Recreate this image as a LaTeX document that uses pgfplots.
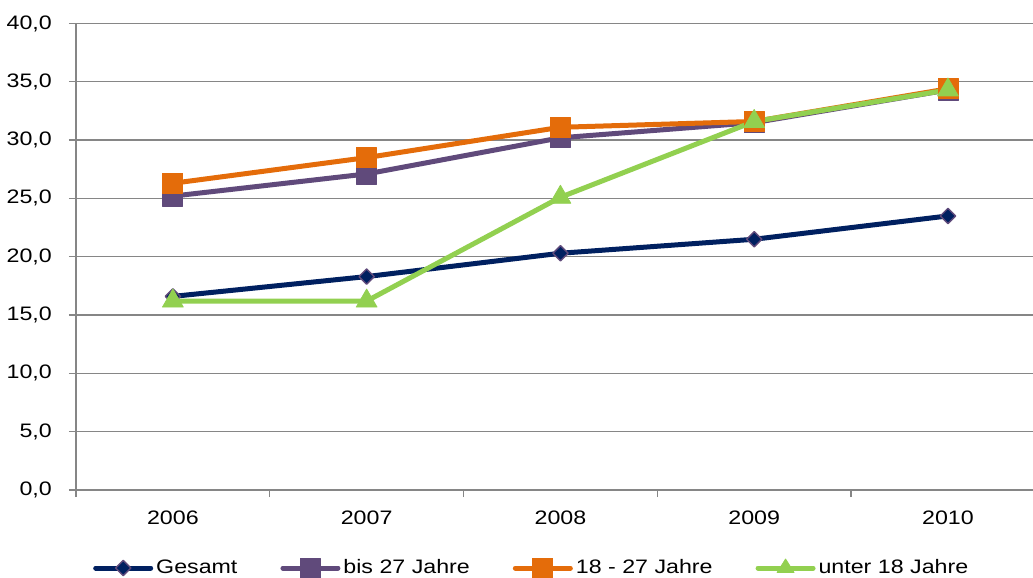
\documentclass[border=0pt]{standalone}
\usepackage{fontspec}
\setmainfont{Liberation Sans}[FakeStretch=1.19]
\usepackage{pgfplots}
\pgfplotsset{compat=1.18}

\definecolor{navyline}{HTML}{002060}
\definecolor{purpleline}{HTML}{604A7B}
\definecolor{orangeline}{HTML}{E46C0A}
\definecolor{greenline}{HTML}{92D050}
\definecolor{gridgray}{HTML}{868686}

\begin{document}
\fontsize{19.5}{23}\selectfont
\begin{tikzpicture}
\begin{axis}[
  name=a,
  scale only axis,
  width=957pt, height=466.5pt,
  xmin=0.5, xmax=5.439,
  ymin=0, ymax=40,
  axis lines*=left,
  axis line style={draw=gridgray, line width=1.3pt},
  ytick={0,5,...,40},
  ymajorgrids,
  grid style={gridgray, line width=1.3pt},
  xtick={1,2,3,4,5},
  xticklabels={2006,2007,2008,2009,2010},
  minor xtick={0.5,1.5,2.5,3.5,4.5},
  tick align=outside,
  major tick length=7pt,
  minor tick length=7pt,
  tick style={gridgray, line width=1.3pt},
  major x tick style={draw=none},
  yticklabel style={/pgf/number format/fixed, /pgf/number format/fixed zerofill,
    /pgf/number format/precision=1, /pgf/number format/use comma,
    /pgf/number format/assume math mode=true, inner sep=0pt, xshift=-17pt},
  xticklabel style={inner sep=0pt, yshift=-14pt},
  legend columns=4,
  legend style={at={(axis description cs:0,0)}, anchor=west,
    xshift=17pt, yshift=-78pt, draw=none, fill=none, inner sep=0pt,
    nodes={inner xsep=3pt, inner ysep=0pt},
    /tikz/every even column/.append style={column sep=40pt}},
  legend image code/.code={\draw[mark repeat=2, mark phase=2]
    plot coordinates {(0pt,0pt) (27.5pt,0pt) (55pt,0pt)};},
]
\addplot[navyline, line width=5pt, line join=round, line cap=round,
  mark=square*, mark size=5.4pt,
  mark options={rotate=45, fill=navyline, draw=purpleline, line width=1.4pt}]
  coordinates {(1,16.6) (2,18.3) (3,20.3) (4,21.5) (5,23.5)};
\addlegendentry{Gesamt}
\addplot[purpleline, line width=5pt, line join=round, line cap=round,
  mark=square*, mark size=10pt,
  mark options={fill=purpleline, draw=purpleline, line width=0.8pt}]
  coordinates {(1,25.2) (2,27.1) (3,30.2) (4,31.5) (5,34.3)};
\addlegendentry{bis 27 Jahre}
\addplot[orangeline, line width=5pt, line join=round, line cap=round,
  mark=square*, mark size=10pt,
  mark options={fill=orangeline, draw=orangeline, line width=0.8pt}]
  coordinates {(1,26.3) (2,28.5) (3,31.1) (4,31.6) (5,34.4)};
\addlegendentry{18 - 27 Jahre}
\addplot[greenline, line width=5pt, line join=round, line cap=round,
  mark=triangle*, mark size=12pt,
  mark options={fill=greenline, draw=greenline, line width=0.8pt},
  legend image code/.code={\draw[mark=none] (0pt,0pt) -- (55pt,0pt);
    \draw[mark=none, fill=greenline, draw=greenline, line width=0.8pt]
      (27.5pt,9pt) -- (19pt,-4.5pt) -- (36pt,-4.5pt) -- cycle;}]
  coordinates {(1,16.2) (2,16.2) (3,25.1) (4,31.6) (5,34.3)};
\addlegendentry{unter 18 Jahre}
\end{axis}
\pgfresetboundingbox
\path[use as bounding box] ([shift={(-76pt,-88pt)}]a.south west) rectangle ++(1033pt,578pt);
\end{tikzpicture}
\end{document}
